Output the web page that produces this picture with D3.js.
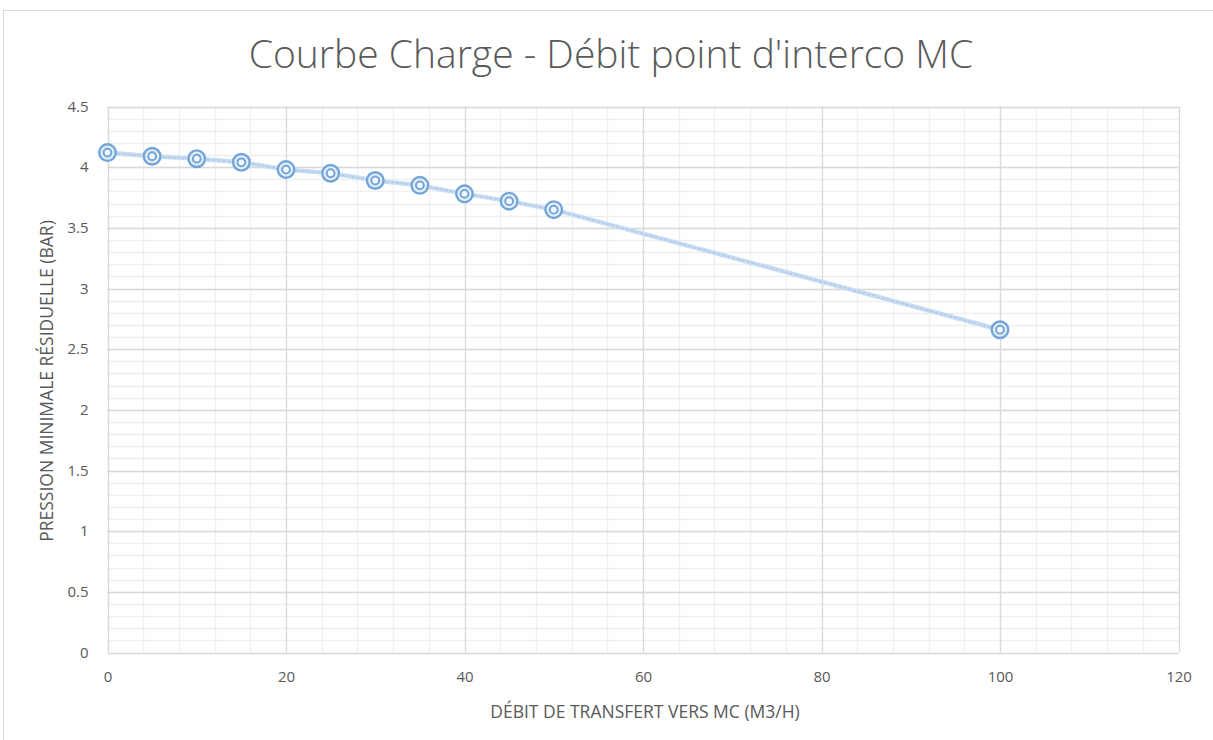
<!DOCTYPE html>
<html>
<head>
<meta charset="utf-8">
<script src="https://cdn.jsdelivr.net/npm/d3@7"></script>
<style>
  html, body { margin: 0; padding: 0; background: #ffffff; }
  svg { display: block; }
  text { font-family: "Open Sans", "Noto Sans", sans-serif; fill: #595959; }
</style>
</head>
<body>
<svg id="chart" width="1213" height="740"></svg>
<script>
// Flow rate towards MC (m3/h) and the matching minimum residual pressure (bar)
const flows = [0, 5, 10, 15, 20, 25, 30, 35, 40, 45, 50, 100];
const pressures = [4.12, 4.09, 4.07, 4.04, 3.98, 3.95, 3.89, 3.85, 3.78, 3.72, 3.65, 2.66];

const xTicks = [0, 20, 40, 60, 80, 100, 120];
const yTicks = [0, 0.5, 1, 1.5, 2, 2.5, 3, 3.5, 4, 4.5];

const titleText = "Courbe Charge - Débit point d'interco MC";
const xTitle = "DÉBIT DE TRANSFERT VERS MC (M3/H)";
const yTitle = "PRESSION MINIMALE RÉSIDUELLE (BAR)";

const svg = d3.select("#chart");
const plot = { left: 107.5, right: 1178.5, top: 106.5, bottom: 652.5 };

const x = d3.scaleLinear().domain([0, 120]).range([plot.left, plot.right]);
const y = d3.scaleLinear().domain([0, 4.5]).range([plot.bottom, plot.top]);

// chart frame
svg.append("rect")
  .attr("x", 3.5).attr("y", 10.5)
  .attr("width", 1230).attr("height", 760)
  .attr("fill", "#ffffff")
  .attr("stroke", "#d9d9d9").attr("stroke-width", 1);

// minor gridlines
const xMinor = d3.range(0, 120.001, 4);
const yMinor = d3.range(0, 4.5001, 0.1);
const grid = svg.append("g");
grid.selectAll("line.xm").data(xMinor).join("line")
  .attr("x1", d => Math.round(x(d)) + 0.5).attr("x2", d => Math.round(x(d)) + 0.5)
  .attr("y1", plot.top).attr("y2", plot.bottom)
  .attr("stroke", "#efefef").attr("stroke-width", 1.3);
grid.selectAll("line.ym").data(yMinor).join("line")
  .attr("y1", d => Math.round(y(d)) + 0.5).attr("y2", d => Math.round(y(d)) + 0.5)
  .attr("x1", plot.left).attr("x2", plot.right)
  .attr("stroke", "#efefef").attr("stroke-width", 1.3);

// major gridlines
grid.selectAll("line.xM").data(xTicks).join("line")
  .attr("x1", d => Math.round(x(d)) + 0.5).attr("x2", d => Math.round(x(d)) + 0.5)
  .attr("y1", plot.top).attr("y2", plot.bottom)
  .attr("stroke", "#d9d9d9").attr("stroke-width", 1.3);
grid.selectAll("line.yM").data(yTicks).join("line")
  .attr("y1", d => Math.round(y(d)) + 0.5).attr("y2", d => Math.round(y(d)) + 0.5)
  .attr("x1", plot.left).attr("x2", plot.right)
  .attr("stroke", "#d9d9d9").attr("stroke-width", 1.3);

// axes (labels only, gridlines carry the structure)
const xAxis = d3.axisBottom(x).tickValues(xTicks).tickSize(0).tickPadding(19)
  .tickFormat(d3.format("d"));
svg.append("g").attr("transform", `translate(0,${plot.bottom})`).call(xAxis)
  .call(g => g.select(".domain").remove())
  .call(g => g.selectAll("text").attr("font-size", 15).style("font-family", "'Open Sans', sans-serif").attr("fill", "#595959"));

const yAxis = d3.axisLeft(y).tickValues(yTicks).tickSize(0).tickPadding(19)
  .tickFormat(d => String(d));
svg.append("g").attr("transform", `translate(${plot.left},0)`).call(yAxis)
  .call(g => g.select(".domain").remove())
  .call(g => g.selectAll("text").attr("font-size", 15).style("font-family", "'Open Sans', sans-serif").attr("fill", "#595959"));

// title
svg.append("text")
  .attr("x", 611).attr("y", 68)
  .attr("text-anchor", "middle")
  .attr("font-size", 39).attr("font-weight", 300)
  .text(titleText);

// axis titles
svg.append("text")
  .attr("x", 645).attr("y", 718)
  .attr("text-anchor", "middle")
  .attr("font-size", 17.5)
  .text(xTitle);

svg.append("text")
  .attr("transform", `translate(53,381) rotate(-90)`)
  .attr("text-anchor", "middle")
  .attr("font-size", 17.5)
  .text(yTitle);

// series line
const line = d3.line().x((d, i) => x(flows[i])).y(d => y(d));
svg.append("path")
  .datum(pressures)
  .attr("d", line)
  .attr("fill", "none")
  .attr("stroke", "#c9ddf1").attr("stroke-width", 4.5)
  .attr("stroke-linejoin", "round");
svg.append("path")
  .datum(pressures)
  .attr("d", line)
  .attr("fill", "none")
  .attr("stroke", "#a6c7e9").attr("stroke-width", 1.5)
  .attr("stroke-dasharray", "3 2")
  .attr("opacity", 0.8);

// double-ring markers
const pts = svg.append("g").selectAll("g").data(pressures).join("g")
  .attr("transform", (d, i) => `translate(${x(flows[i])},${y(d)})`);
pts.append("circle").attr("r", 8.3)
  .attr("fill", "#e3eef9").attr("stroke", "#73a5d9").attr("stroke-width", 2.4);
pts.append("circle").attr("r", 3.9)
  .attr("fill", "#f4f8fc").attr("stroke", "#73a5d9").attr("stroke-width", 2);
</script>
</body>
</html>
